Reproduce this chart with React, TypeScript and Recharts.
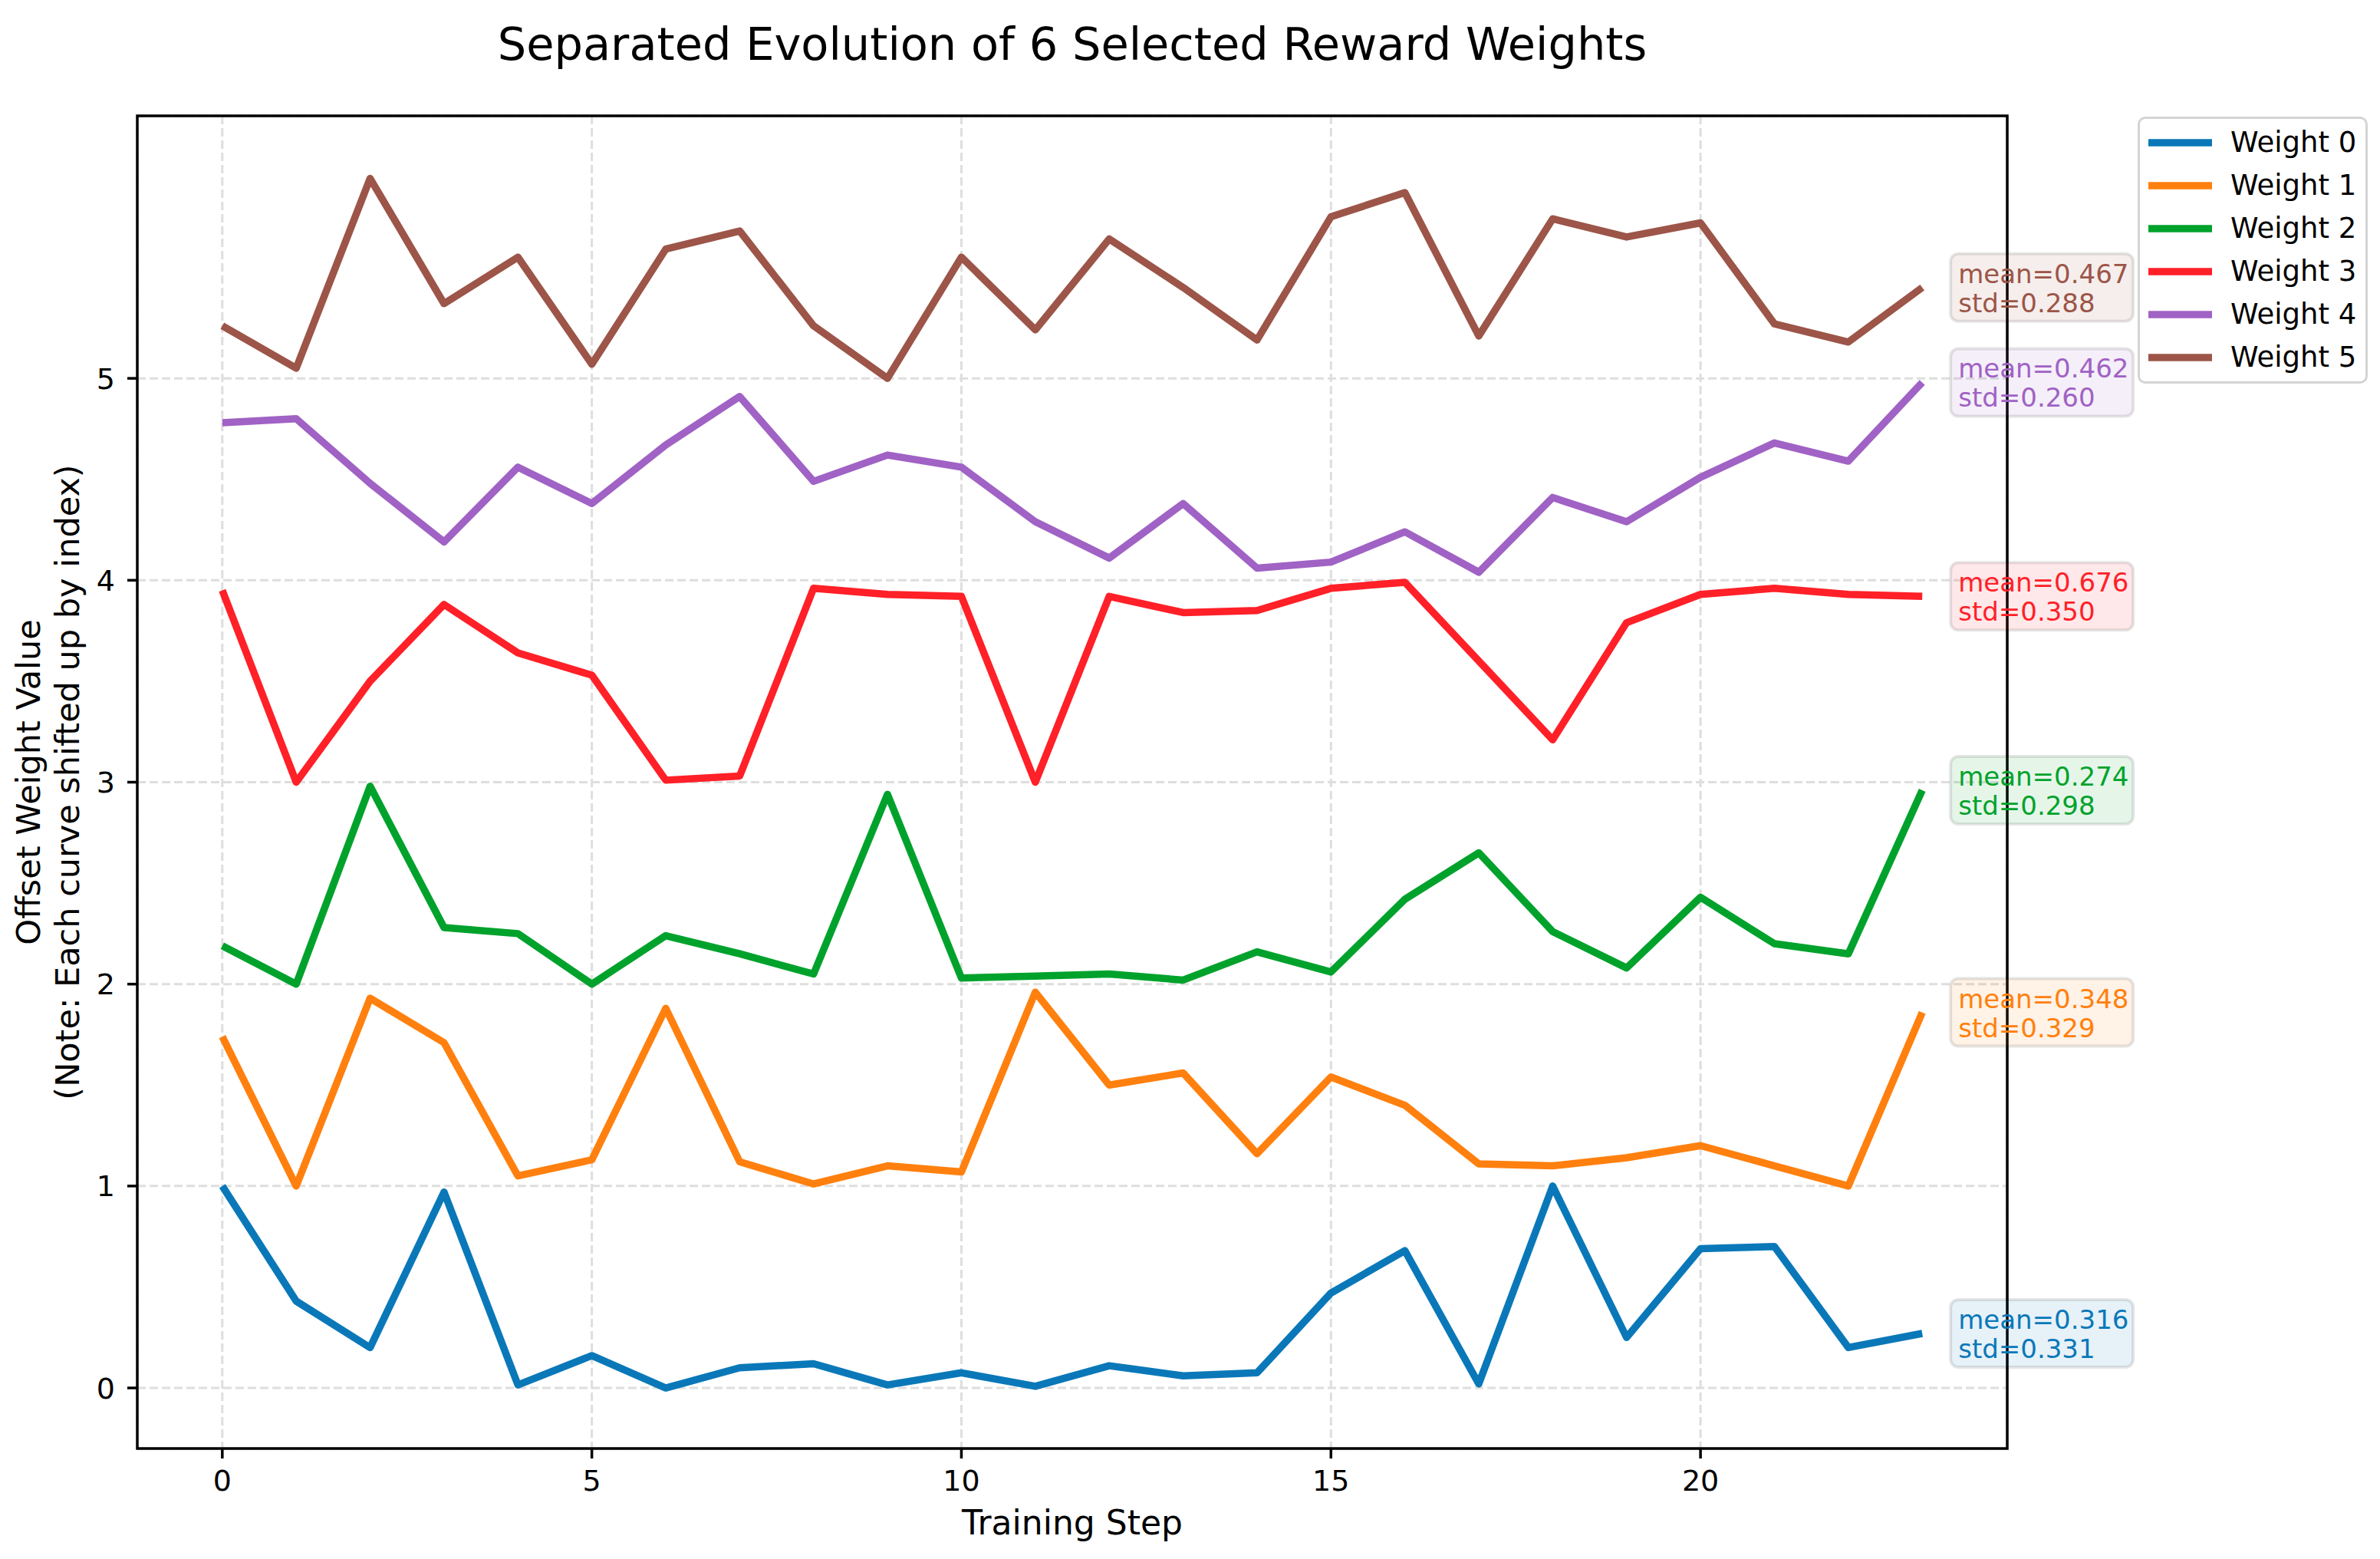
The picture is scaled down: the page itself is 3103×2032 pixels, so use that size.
import React from 'react';
import {
  LineChart,
  Line,
  XAxis,
  YAxis,
  CartesianGrid,
  ReferenceArea,
  Legend,
  LabelList,
  Customized,
} from 'recharts';

const steps = [0, 1, 2, 3, 4, 5, 6, 7, 8, 9, 10, 11, 12, 13, 14, 15, 16, 17, 18, 19, 20, 21, 22, 23];

const weight0 = [1.0, 0.43, 0.2, 0.97, 0.015, 0.16, 0.0, 0.1, 0.12, 0.015, 0.075, 0.008, 0.11, 0.06, 0.075, 0.47, 0.68, 0.02, 1.0, 0.25, 0.69, 0.7, 0.2, 0.27];
const weight1 = [0.74, 0.0, 0.93, 0.71, 0.05, 0.13, 0.88, 0.12, 0.01, 0.1, 0.07, 0.96, 0.5, 0.56, 0.16, 0.54, 0.4, 0.11, 0.1, 0.14, 0.2, 0.1, 0.0, 0.86];
const weight2 = [0.19, 0.0, 0.98, 0.28, 0.25, 0.0, 0.24, 0.15, 0.05, 0.94, 0.03, 0.04, 0.05, 0.02, 0.16, 0.06, 0.42, 0.65, 0.26, 0.08, 0.43, 0.2, 0.15, 0.96];
const weight3 = [0.95, 0.0, 0.5, 0.88, 0.64, 0.53, 0.01, 0.03, 0.96, 0.93, 0.92, 0.0, 0.92, 0.84, 0.85, 0.96, 0.99, 0.6, 0.21, 0.79, 0.93, 0.96, 0.93, 0.92];
const weight4 = [0.78, 0.8, 0.48, 0.19, 0.56, 0.38, 0.67, 0.91, 0.49, 0.62, 0.56, 0.29, 0.11, 0.38, 0.06, 0.09, 0.24, 0.04, 0.41, 0.29, 0.51, 0.68, 0.59, 0.98];
const weight5 = [0.26, 0.05, 0.99, 0.37, 0.6, 0.07, 0.64, 0.73, 0.26, 0.0, 0.6, 0.24, 0.69, 0.45, 0.19, 0.8, 0.92, 0.21, 0.79, 0.7, 0.77, 0.27, 0.18, 0.45];

const seriesValues = [weight0, weight1, weight2, weight3, weight4, weight5];
const seriesNames = ['Weight 0', 'Weight 1', 'Weight 2', 'Weight 3', 'Weight 4', 'Weight 5'];
const seriesColors = ['#0a78b8', '#ff800e', '#00a22c', '#ff2028', '#a062c4', '#9c5548'];
const seriesMeans = ['0.316', '0.348', '0.274', '0.676', '0.462', '0.467'];
const seriesStds = ['0.331', '0.329', '0.298', '0.350', '0.260', '0.288'];

const xTicks = [0, 5, 10, 15, 20];
const yTicks = [0, 1, 2, 3, 4, 5];

const titleText = 'Separated Evolution of 6 Selected Reward Weights';
const xLabelText = 'Training Step';
const yLabelLine1 = 'Offset Weight Value';
const yLabelLine2 = '(Note: Each curve shifted up by index)';

const FONT = '"DejaVu Sans", sans-serif';

const rows = steps.map((s, i) => {
  const row: Record<string, number> = { step: s };
  seriesValues.forEach((vals, k) => {
    row['w' + k] = vals[i] + k;
  });
  return row;
});

const W = 3103;
const H = 2032;
const PLOT_LEFT = 179;
const PLOT_RIGHT = 2617;
const PLOT_TOP = 151;
const PLOT_BOTTOM = 1888;
const Y_AXIS_W = 100;
const X_AXIS_H = 60;

function makeAnnotation(k: number) {
  return (props: any) => {
    const { x, y, index } = props;
    if (index !== steps.length - 1 || x == null || y == null) return null;
    const color = seriesColors[k];
    const bx = Number(x) + 37;
    const bw = 238;
    const bh = 88;
    const by = Number(y) - bh / 2;
    return (
      <g>
        <rect x={bx} y={by} width={bw} height={bh} rx={10} ry={10} fill={color} fillOpacity={0.1} stroke="#000" strokeOpacity={0.1} strokeWidth={4} />
        <text x={bx + 10} y={by + 38} fill={color} fontSize={34} fontFamily={FONT}>
          {'mean=' + seriesMeans[k]}
        </text>
        <text x={bx + 10} y={by + 76} fill={color} fontSize={34} fontFamily={FONT}>
          {'std=' + seriesStds[k]}
        </text>
      </g>
    );
  };
}

const Texts = () => {
  const cx = (PLOT_LEFT + PLOT_RIGHT) / 2;
  const cy = (PLOT_TOP + PLOT_BOTTOM) / 2;
  return (
    <g fontFamily={FONT} fill="#000">
      <text x={cx} y={78} textAnchor="middle" fontSize={59}>{titleText}</text>
      <text x={cx} y={2000} textAnchor="middle" fontSize={44}>{xLabelText}</text>
      <text transform={`translate(52, ${cy}) rotate(-90)`} textAnchor="middle" fontSize={43}>{yLabelLine1}</text>
      <text transform={`translate(103, ${cy}) rotate(-90)`} textAnchor="middle" fontSize={43}>{yLabelLine2}</text>
    </g>
  );
};

const LegendBox = (props: any) => {
  const payload = seriesNames.map((n, i) => ({ value: n, color: seriesColors[i] }));
  return (
    <div
      style={{
        width: 300,
        height: 348,
        boxSizing: 'border-box',
        border: '3px solid #d4d4d4',
        borderRadius: 10,
        background: '#fff',
        position: 'relative',
        fontFamily: FONT,
      }}
    >
      {payload.map((p, i) => (
        <div key={p.value} style={{ position: 'absolute', left: 0, top: 31 + 56 * i - 25, height: 50, width: 300 }}>
          <svg width={100} height={50} style={{ position: 'absolute', left: 8, top: 0 }}>
            <line x1={3} x2={86} y1={25} y2={25} stroke={p.color} strokeWidth={9.5} />
          </svg>
          <span style={{ position: 'absolute', left: 118, top: 2, fontSize: 37, lineHeight: '46px', color: '#000', whiteSpace: 'nowrap' }}>
            {p.value}
          </span>
        </div>
      ))}
    </div>
  );
};

export default function App() {
  return (
    <div style={{ position: 'absolute', left: 0, top: 0, width: W, height: H, background: '#fff' }}>
      <LineChart
        width={W}
        height={H}
        data={rows}
        margin={{ top: PLOT_TOP, right: W - PLOT_RIGHT, bottom: H - PLOT_BOTTOM - X_AXIS_H, left: PLOT_LEFT - Y_AXIS_W }}
      >
        <CartesianGrid stroke="#dedede" strokeWidth={3} strokeDasharray="11 5" />
        <XAxis
          dataKey="step"
          type="number"
          domain={[-1.15, 24.15]}
          ticks={xTicks}
          allowDataOverflow
          height={X_AXIS_H}
          axisLine={false}
          tickLine={{ stroke: '#000', strokeWidth: 3.5 }}
          tickSize={13}
          tickMargin={15}
          tick={{ fill: '#000', fontSize: 38, fontFamily: FONT }}
          interval={0}
        />
        <YAxis
          type="number"
          domain={[-0.3, 6.3]}
          ticks={yTicks}
          allowDataOverflow
          width={Y_AXIS_W}
          axisLine={false}
          tickLine={{ stroke: '#000', strokeWidth: 3.5 }}
          tickSize={13}
          tickMargin={16}
          tick={{ fill: '#000', fontSize: 38, fontFamily: FONT }}
          interval={0}
        />
        {seriesNames.map((name, k) => (
          <Line
            key={name}
            type="linear"
            dataKey={'w' + k}
            name={name}
            stroke={seriesColors[k]}
            strokeWidth={9.5}
            strokeLinejoin="round"
            dot={false}
            activeDot={false}
            isAnimationActive={false}
          >
            <LabelList dataKey={'w' + k} content={makeAnnotation(k)} />
          </Line>
        ))}
        <ReferenceArea
          x1={-1.15}
          x2={24.15}
          y1={-0.3}
          y2={6.3}
          fill="none"
          fillOpacity={0}
          stroke="#000"
          strokeWidth={3.5}
          ifOverflow="visible"
        />
        <Legend
          layout="vertical"
          align="center"
          verticalAlign="middle"
          content={<LegendBox />}
          wrapperStyle={{ position: 'absolute', left: 2787, top: 152, width: 300, height: 348 }}
        />
        <Customized component={<Texts />} />
      </LineChart>
    </div>
  );
}
